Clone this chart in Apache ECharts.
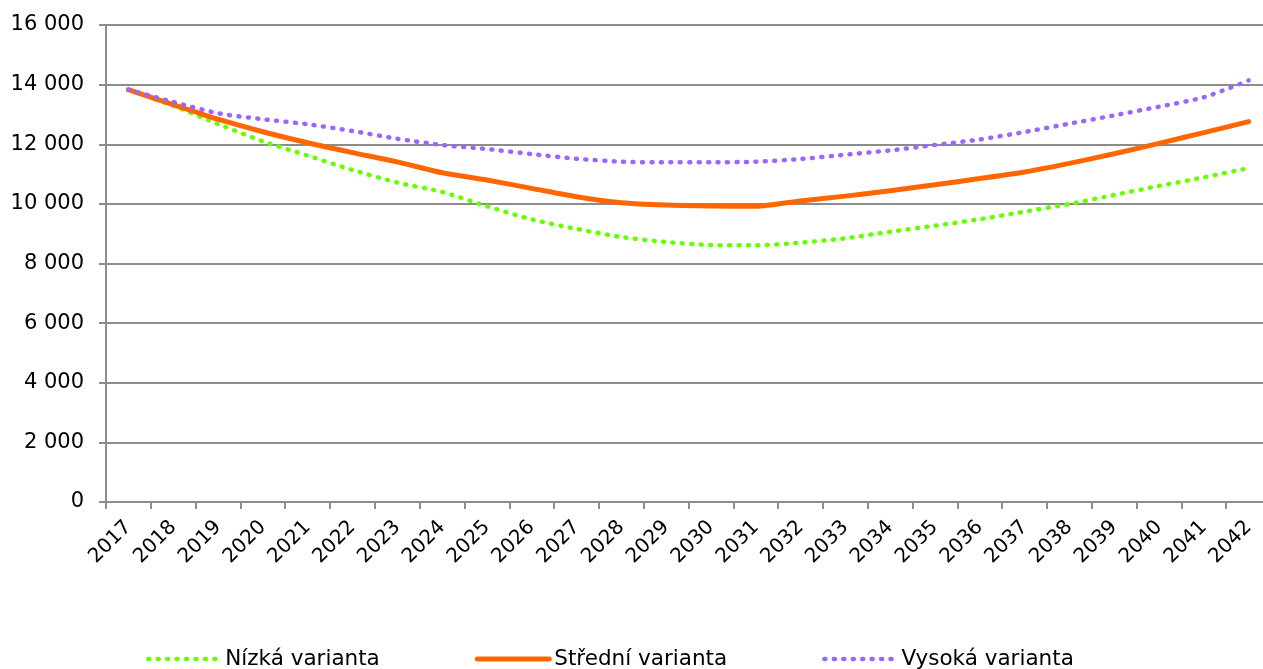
<!DOCTYPE html>
<html>
<head>
<meta charset="utf-8">
<script src="https://cdn.jsdelivr.net/npm/echarts@6/dist/echarts.min.js"></script>
<style>
html,body{margin:0;padding:0;background:#fff;overflow:hidden;width:1263px;height:669px;}
#chart{width:1280px;height:669px;}
</style>
</head>
<body>
<div id="chart"></div>
<script>
const years = ['2017','2018','2019','2020','2021','2022','2023','2024','2025','2026','2027','2028','2029','2030','2031','2032','2033','2034','2035','2036','2037','2038','2039','2040','2041','2042'];
const nizka = [13830,13290,12680,12100,11620,11135,10715,10400,9920,9480,9160,8890,8720,8620,8610,8700,8845,9065,9270,9485,9740,9995,10300,10600,10890,11200];
const stredni = [13830,13330,12840,12420,12050,11720,11410,11045,10800,10520,10240,10040,9960,9930,9920,10100,10260,10440,10640,10850,11070,11360,11680,12030,12390,12760];
const vysoka = [13830,13420,13040,12840,12670,12445,12185,11975,11840,11670,11515,11415,11395,11395,11415,11505,11650,11795,11975,12160,12410,12690,12970,13260,13575,14140];
const seriesNames = ['Nízká varianta','Střední varianta','Vysoká varianta'];
const colors = ['#66ff00','#ff6600','#9966ff'];

const font = 'DejaVu Sans, Verdana, sans-serif';
const dotted = {width: 4.5, type: [1, 8.45], cap: 'round'};
const solid = {width: 5, type: 'solid', cap: 'round'};
const styles = [dotted, solid, dotted];

const chart = echarts.init(document.getElementById('chart'));
chart.setOption({
  animation: false,
  backgroundColor: '#fff',
  grid: {left: 106, right: 9, top: 25, bottom: 167, containLabel: false},
  legend: {
    left: 141, top: 643,
    itemWidth: 72, itemHeight: 20, itemGap: 95,
    itemStyle: {opacity: 0},
    textStyle: {fontFamily: font, fontSize: 21.5, color: '#000'},
    data: seriesNames.map((n, i) => ({name: n, lineStyle: Object.assign({color: colors[i]}, styles[i])}))
  },
  xAxis: {
    type: 'category', data: years, boundaryGap: true,
    axisLine: {lineStyle: {color: '#8c8c8c', width: 2}},
    axisTick: {show: true, interval: 0, length: 7, lineStyle: {color: '#8c8c8c', width: 2}},
    axisLabel: {interval: 0, rotate: 45, margin: 22, fontFamily: font, fontSize: 20, color: '#000'},
    splitLine: {show: false}
  },
  yAxis: {
    type: 'value', min: 0, max: 16000, interval: 2000,
    axisLine: {show: true, lineStyle: {color: '#8c8c8c', width: 2}},
    axisTick: {show: true, length: 7, lineStyle: {color: '#8c8c8c', width: 2}},
    axisLabel: {margin: 22, fontFamily: font, fontSize: 21, color: '#000',
      formatter: v => String(v).replace(/\B(?=(\d{3})+(?!\d))/g, ' ')},
    splitLine: {show: true, lineStyle: {color: '#8c8c8c', width: 2}}
  },
  series: [nizka, stredni, vysoka].map((d, i) => ({
    name: seriesNames[i], type: 'line', data: d, symbol: 'none', smooth: 0.25,
    itemStyle: {color: colors[i]},
    lineStyle: Object.assign({color: colors[i]}, styles[i])
  }))
});
</script>
</body>
</html>
